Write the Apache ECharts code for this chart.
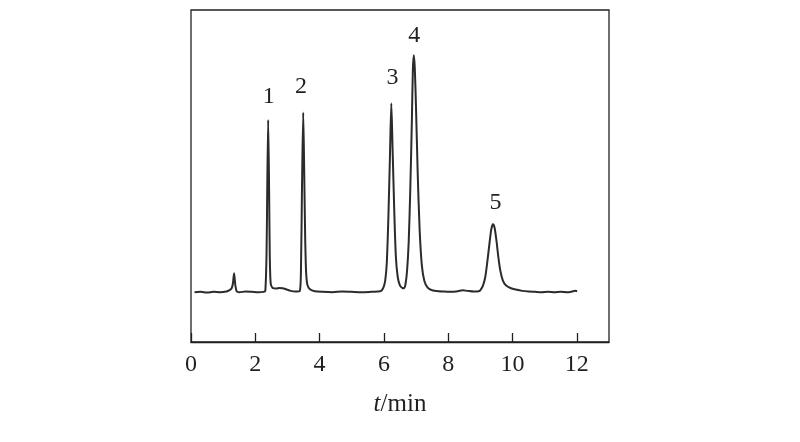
<!DOCTYPE html>
<html>
<head>
<meta charset="utf-8">
<script src="https://cdn.jsdelivr.net/npm/echarts@6/dist/echarts.min.js"></script>
<style>html,body{margin:0;padding:0;background:#fff}#c{width:800px;height:442px}</style>
</head>
<body>
<div id="c"></div>
<script>
// retention time (min)
var time = [
  0.11, 0.3, 0.5, 0.7, 0.9, 1.1, 1.2, 1.26, 1.3, 1.34, 1.38, 1.42, 1.5, 1.7, 1.9, 2.1, 2.25,
  2.31, 2.35, 2.37, 2.40, 2.43, 2.45, 2.48, 2.55, 2.65, 2.75, 2.85, 2.95, 3.1, 3.25, 3.38,
  3.42, 3.45, 3.49, 3.52, 3.55, 3.58, 3.62, 3.7, 3.85, 4.1, 4.4, 4.7, 5.0, 5.3, 5.6, 5.8, 5.9,
  5.98, 6.04, 6.09, 6.14, 6.19, 6.23, 6.27, 6.32, 6.37, 6.43, 6.5, 6.57, 6.62,
  6.67, 6.72, 6.77, 6.82, 6.87, 6.90, 6.93, 6.96, 7.00, 7.05, 7.11, 7.18, 7.26, 7.36, 7.5, 7.7,
  7.9, 8.1, 8.3, 8.45, 8.6, 8.8, 8.95,
  9.00, 9.08, 9.15, 9.22, 9.28, 9.34, 9.39, 9.44, 9.50, 9.56, 9.62, 9.70, 9.80, 9.95, 10.1, 10.3,
  10.5, 10.7, 10.9, 11.1, 11.3, 11.5, 11.7, 11.85, 11.95, 12.01
];
// detector signal (arbitrary units)
var signal = [
  15.0, 15.1, 14.9, 15.1, 15.0, 15.2, 15.6, 16.1, 17.4, 20.7, 17.0, 15.3, 15.0, 15.2, 15.1, 15.0, 15.1,
  15.3, 27.0, 45.0, 66.9, 45.0, 26.0, 17.5, 16.2, 16.1, 16.3, 16.2, 15.9, 15.4, 15.2, 15.3,
  22.0, 45.0, 69.1, 52.0, 32.0, 21.0, 17.2, 15.9, 15.3, 15.1, 15.0, 15.2, 15.1, 15.0, 15.1, 15.2, 15.3,
  16.3, 18.5, 24.0, 38.0, 57.0, 71.9, 58.0, 40.0, 26.0, 19.5, 17.0, 16.3, 16.2,
  17.4, 21.5, 30.0, 46.0, 67.0, 82.0, 86.4, 82.5, 70.0, 51.0, 34.0, 23.0, 18.3, 16.4, 15.6, 15.3,
  15.2, 15.1, 15.3, 15.6, 15.4, 15.2, 15.3,
  15.6, 17.0, 19.5, 24.5, 29.5, 34.0, 35.5, 34.5, 30.5, 25.5, 21.5, 18.5, 17.0, 16.2, 15.8, 15.4,
  15.2, 15.1, 15.0, 15.1, 15.0, 15.1, 15.0, 15.2, 15.4, 15.3
];
// peak labels
var peakNames = ['1', '2', '3', '4', '5'];
var peakLabelTime = [2.42, 3.42, 6.27, 6.94, 9.47];
var peakLabelSignal = [73.8, 76.8, 79.5, 92.3, 41.9];
// x-axis
var xMin = 0, xMax = 13, xStep = 2;

var lineData = time.map(function (t, i) { return [t, signal[i]]; });
var labelData = peakNames.map(function (n, i) { return [peakLabelTime[i], peakLabelSignal[i], n]; });

var ink = '#231f20';
var serif = '"Liberation Serif", "Times New Roman", serif';

var chart = echarts.init(document.getElementById('c'), null, {renderer: 'canvas'});
chart.setOption({
  animation: false,
  backgroundColor: '#fff',
  grid: {left: 191, right: 191, top: 10, bottom: 100, show: true, borderColor: ink, borderWidth: 1.3, backgroundColor: 'transparent'},
  xAxis: {
    type: 'value', min: xMin, max: xMax, interval: xStep,
    axisLine: {show: true, lineStyle: {color: ink, width: 1.3}},
    axisTick: {show: true, inside: true, length: 9, lineStyle: {color: ink, width: 1.3}},
    splitLine: {show: false},
    axisLabel: {
      margin: 11, color: ink, fontFamily: serif, fontSize: 24,
      showMaxLabel: false,
      formatter: function (v) { return v % 2 === 0 ? String(v) : ''; }
    },
    name: '{i|t}/min', nameLocation: 'middle', nameGap: 50,
    nameTextStyle: {
      color: ink, fontFamily: serif, fontSize: 25,
      rich: {i: {fontStyle: 'italic', fontFamily: serif, fontSize: 25, color: ink}}
    }
  },
  yAxis: {
    type: 'value', min: 0, max: 100,
    axisLine: {show: false}, axisTick: {show: false}, axisLabel: {show: false}, splitLine: {show: false}
  },
  series: [
    {
      type: 'line', data: lineData, showSymbol: false, smooth: 0.25,
      lineStyle: {color: '#2b2b2b', width: 2}
    },
    {
      type: 'scatter', data: labelData, symbolSize: 1,
      itemStyle: {color: 'rgba(0,0,0,0)', opacity: 1},
      label: {
        show: true, position: 'inside', color: ink, fontFamily: serif, fontSize: 24,
        textBorderWidth: 0,
        formatter: function (p) { return p.data[2]; }
      },
      emphasis: {disabled: true}
    }
  ]
});
</script>
</body>
</html>
